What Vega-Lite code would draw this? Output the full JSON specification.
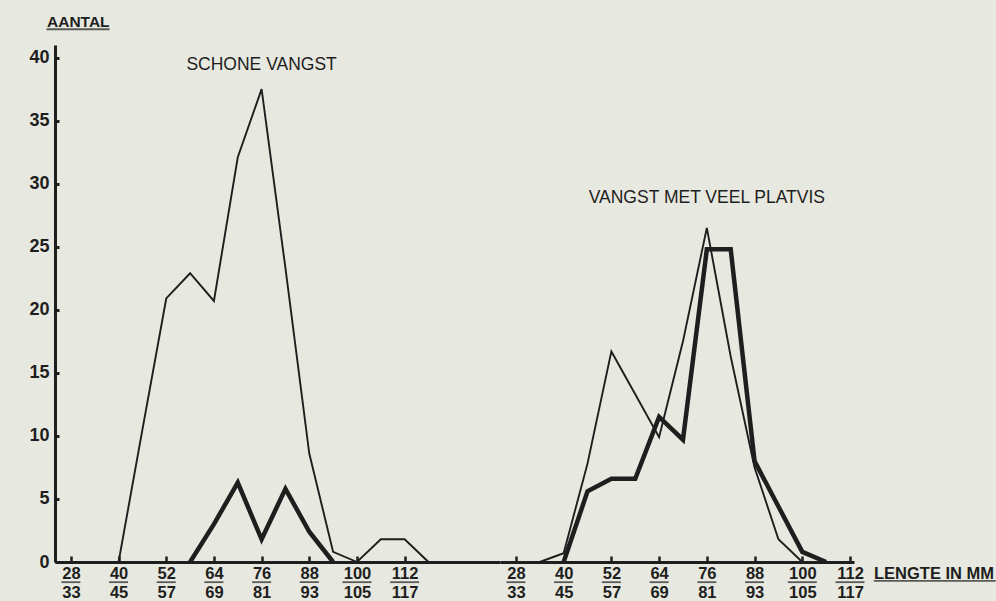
{
  "$schema": "https://vega.github.io/schema/vega-lite/v6.json",
  "background": "#e7e8df",
  "padding": {"left": 28, "top": 14, "right": 5, "bottom": 0},
  "spacing": 0,
  "bounds": "flush",
  "config": {
    "view": {"stroke": null},
    "font": "Liberation Sans",
    "axis": {
      "domainColor": "#1e1e1e",
      "domainWidth": 3,
      "tickColor": "#1e1e1e",
      "labelColor": "#1e1e1e",
      "titleColor": "#1e1e1e",
      "labelFont": "Liberation Sans",
      "titleFont": "Liberation Sans",
      "labelFontWeight": "bold",
      "labelFontSize": 16.5,
      "grid": false
    }
  },
  "datasets": {
    "schone": [
      {"reeks": "dun", "lengte": 40, "aantal": 0},
      {"reeks": "dun", "lengte": 46, "aantal": 10.5},
      {"reeks": "dun", "lengte": 52, "aantal": 20.9},
      {"reeks": "dun", "lengte": 58, "aantal": 22.9},
      {"reeks": "dun", "lengte": 64, "aantal": 20.7},
      {"reeks": "dun", "lengte": 70, "aantal": 32.1},
      {"reeks": "dun", "lengte": 76, "aantal": 37.5},
      {"reeks": "dun", "lengte": 82, "aantal": 23.3},
      {"reeks": "dun", "lengte": 88, "aantal": 8.6},
      {"reeks": "dun", "lengte": 94, "aantal": 0.8},
      {"reeks": "dun", "lengte": 100, "aantal": 0},
      {"reeks": "dun", "lengte": 106, "aantal": 1.8},
      {"reeks": "dun", "lengte": 112, "aantal": 1.8},
      {"reeks": "dun", "lengte": 118, "aantal": 0},
      {"reeks": "dik", "lengte": 58, "aantal": 0},
      {"reeks": "dik", "lengte": 64, "aantal": 3.0},
      {"reeks": "dik", "lengte": 70, "aantal": 6.3},
      {"reeks": "dik", "lengte": 76, "aantal": 1.8},
      {"reeks": "dik", "lengte": 82, "aantal": 5.8},
      {"reeks": "dik", "lengte": 88, "aantal": 2.4},
      {"reeks": "dik", "lengte": 94, "aantal": 0}
    ],
    "platvis": [
      {"reeks": "dun", "lengte": 34, "aantal": 0},
      {"reeks": "dun", "lengte": 40, "aantal": 0.7},
      {"reeks": "dun", "lengte": 46, "aantal": 7.8},
      {"reeks": "dun", "lengte": 52, "aantal": 16.7},
      {"reeks": "dun", "lengte": 58, "aantal": 13.3},
      {"reeks": "dun", "lengte": 64, "aantal": 9.9},
      {"reeks": "dun", "lengte": 70, "aantal": 17.5},
      {"reeks": "dun", "lengte": 76, "aantal": 26.5},
      {"reeks": "dun", "lengte": 82, "aantal": 16.3},
      {"reeks": "dun", "lengte": 88, "aantal": 7.5},
      {"reeks": "dun", "lengte": 94, "aantal": 1.8},
      {"reeks": "dun", "lengte": 100, "aantal": 0},
      {"reeks": "dik", "lengte": 40, "aantal": 0},
      {"reeks": "dik", "lengte": 46, "aantal": 5.6},
      {"reeks": "dik", "lengte": 52, "aantal": 6.6},
      {"reeks": "dik", "lengte": 58, "aantal": 6.6},
      {"reeks": "dik", "lengte": 64, "aantal": 11.5},
      {"reeks": "dik", "lengte": 70, "aantal": 9.7},
      {"reeks": "dik", "lengte": 76, "aantal": 24.8},
      {"reeks": "dik", "lengte": 82, "aantal": 24.8},
      {"reeks": "dik", "lengte": 88, "aantal": 8.0},
      {"reeks": "dik", "lengte": 94, "aantal": 4.4},
      {"reeks": "dik", "lengte": 100, "aantal": 0.8},
      {"reeks": "dik", "lengte": 106, "aantal": 0}
    ],
    "klassen": [
      {"lengte": 28}, {"lengte": 40}, {"lengte": 52}, {"lengte": 64},
      {"lengte": 76}, {"lengte": 88}, {"lengte": 100}, {"lengte": 112}
    ]
  },
  "hconcat": [
    {
      "width": 445,
      "height": 517,
      "layer": [
        {
          "data": {"name": "schone"},
          "mark": {"type": "line", "color": "#1e1e1e", "strokeJoin": "miter"},
          "encoding": {
            "x": {
              "field": "lengte", "type": "quantitative",
              "scale": {"domain": [24, 136], "nice": false, "zero": false},
              "axis": {
                "values": [28, 40, 52, 64, 76, 88, 100, 112],
                "labelExpr": "[datum.label, '' + (datum.value + 5)]",
                "labelLineHeight": 19,
                "labelBaseline": "top",
                "tickSize": -6,
                "tickWidth": 2.5,
                "labelPadding": 9,
                "title": null
              }
            },
            "y": {
              "field": "aantal", "type": "quantitative",
              "scale": {"domain": [0, 41], "nice": false},
              "axis": {
                "values": [0, 5, 10, 15, 20, 25, 30, 35, 40],
                "tickSize": -4,
                "tickWidth": 3,
                "labelPadding": 10,
                "labelFontSize": 18,
                "title": "AANTAL",
                "titleAngle": 0,
                "titleX": -8.5,
                "titleY": -18.3,
                "titleAlign": "left",
                "titleBaseline": "alphabetic",
                "titleFontSize": 15.5,
                "titleFontWeight": "bold"
              }
            },
            "strokeWidth": {
              "field": "reeks", "type": "nominal",
              "scale": {"domain": ["dun", "dik"], "range": [1.9, 4.5]},
              "legend": null
            }
          }
        },
        {
          "data": {"name": "klassen"},
          "mark": {"type": "tick", "orient": "horizontal", "color": "#1e1e1e", "thickness": 1.8, "clip": false},
          "encoding": {
            "x": {"field": "lengte", "type": "quantitative"},
            "y": {"datum": -1.6, "type": "quantitative"},
            "size": {"condition": {"test": "datum.lengte >= 100", "value": 29}, "value": 19}
          }
        },
        {
          "data": {"values": [{"onderdeel": "AANTAL"}]},
          "mark": {"type": "tick", "orient": "horizontal", "color": "#1e1e1e", "thickness": 1.8, "clip": false},
          "encoding": {
            "x": {"datum": 29.8, "type": "quantitative"},
            "y": {"datum": 42.25, "type": "quantitative"},
            "size": {"value": 63}
          }
        },
        {
          "data": {"values": [{"titel": "SCHONE VANGST"}]},
          "mark": {"type": "text", "fontSize": 17.5, "color": "#1e1e1e", "baseline": "middle", "align": "center"},
          "encoding": {
            "x": {"datum": 76, "type": "quantitative"},
            "y": {"datum": 39.4, "type": "quantitative"},
            "text": {"field": "titel"}
          }
        }
      ]
    },
    {
      "width": 354,
      "height": 517,
      "layer": [
        {
          "data": {"name": "platvis"},
          "mark": {"type": "line", "color": "#1e1e1e", "strokeJoin": "miter"},
          "encoding": {
            "x": {
              "field": "lengte", "type": "quantitative",
              "scale": {"domain": [24, 113], "nice": false, "zero": false},
              "axis": {
                "values": [28, 40, 52, 64, 76, 88, 100, 112],
                "labelExpr": "[datum.label, '' + (datum.value + 5)]",
                "labelLineHeight": 19,
                "labelBaseline": "top",
                "tickSize": -6,
                "tickWidth": 2.5,
                "labelPadding": 9,
                "title": "LENGTE IN MM",
                "titleX": 373.5,
                "titleY": 16,
                "titleAlign": "left",
                "titleBaseline": "alphabetic",
                "titleFontSize": 16.5,
                "titleFontWeight": "bold"
              }
            },
            "y": {
              "field": "aantal", "type": "quantitative",
              "scale": {"domain": [0, 41], "nice": false},
              "axis": null
            },
            "strokeWidth": {
              "field": "reeks", "type": "nominal",
              "scale": {"domain": ["dun", "dik"], "range": [1.9, 4.5]},
              "legend": null
            }
          }
        },
        {
          "data": {"name": "klassen"},
          "mark": {"type": "tick", "orient": "horizontal", "color": "#1e1e1e", "thickness": 1.8, "clip": false},
          "encoding": {
            "x": {"field": "lengte", "type": "quantitative"},
            "y": {"datum": -1.6, "type": "quantitative"},
            "size": {"condition": {"test": "datum.lengte >= 100", "value": 29}, "value": 19}
          }
        },
        {
          "data": {"values": [{"onderdeel": "LENGTE IN MM"}]},
          "mark": {"type": "tick", "orient": "horizontal", "color": "#1e1e1e", "thickness": 1.8, "clip": false},
          "encoding": {
            "x": {"datum": 133.3, "type": "quantitative"},
            "y": {"datum": -1.5, "type": "quantitative"},
            "size": {"value": 122}
          }
        },
        {
          "data": {"values": [{"titel": "VANGST MET VEEL PLATVIS"}]},
          "mark": {"type": "text", "fontSize": 17.5, "color": "#1e1e1e", "baseline": "middle", "align": "center"},
          "encoding": {
            "x": {"datum": 76, "type": "quantitative"},
            "y": {"datum": 28.9, "type": "quantitative"},
            "text": {"field": "titel"}
          }
        }
      ]
    }
  ]
}
